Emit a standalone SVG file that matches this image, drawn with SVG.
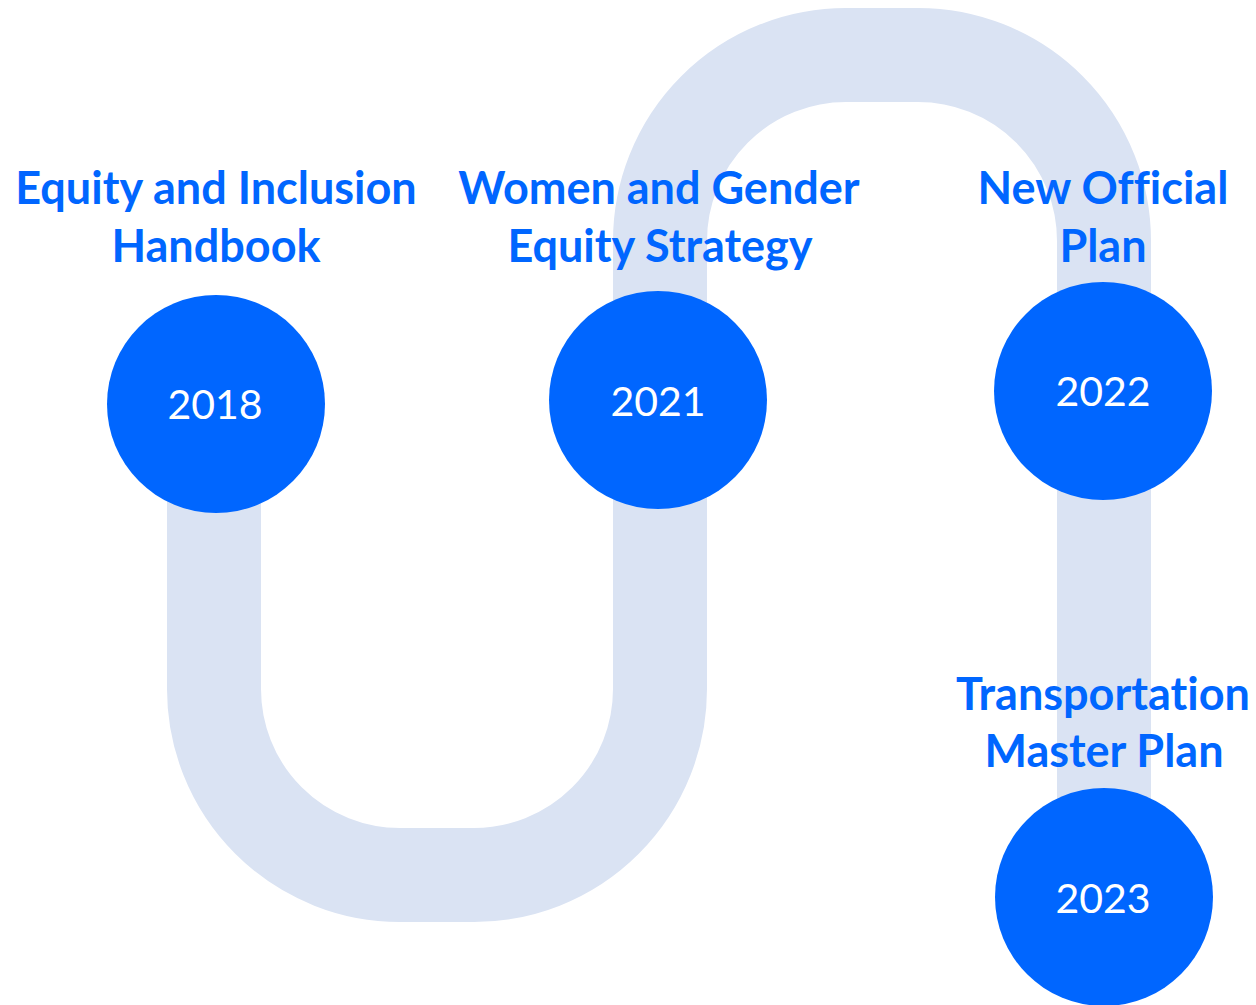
<svg xmlns="http://www.w3.org/2000/svg" width="1256" height="1005" viewBox="0 0 1256 1005">
  <style>
    .track { fill: none; stroke: #DAE3F3; stroke-width: 94; }
    .node { fill: #0066FF; }
    .label { font-family: Lato, "Open Sans", "Liberation Sans", sans-serif; font-weight: bold; font-size: 45px; fill: #0066FF; text-anchor: middle; font-variant-ligatures: none; }
    .year { font-family: Lato, "Open Sans", "Liberation Sans", sans-serif; font-size: 41px; fill: #FFFFFF; text-anchor: middle; }
  </style>
  <rect width="1256" height="1005" fill="#FFFFFF"/>
  <g id="connectors">
    <path class="track" d="M214,404 V689 A186,186 0 0 0 400,875 H474 A186,186 0 0 0 660,689 V241 A186,186 0 0 1 846,55 H918 A186,186 0 0 1 1104,241 V897"/>
  </g>
  <g id="node-2018">
    <text class="label" x="216" y="204">Equity and Inclusion</text>
    <text class="label" x="216" y="262">Handbook</text>
    <circle class="node" cx="216" cy="404" r="109"/>
    <text class="year" x="215" y="419">2018</text>
  </g>
  <g id="node-2021">
    <text class="label" x="659" y="204">Women and Gender</text>
    <text class="label" x="660" y="262">Equity Strategy</text>
    <circle class="node" cx="658" cy="400" r="109"/>
    <text class="year" x="658" y="416">2021</text>
  </g>
  <g id="node-2022">
    <text class="label" x="1103" y="204">New Official</text>
    <text class="label" x="1103" y="262">Plan</text>
    <circle class="node" cx="1103" cy="391" r="109"/>
    <text class="year" x="1103" y="406">2022</text>
  </g>
  <g id="node-2023">
    <text class="label" x="1103" y="710">Transportation</text>
    <text class="label" x="1104" y="767">Master Plan</text>
    <circle class="node" cx="1104" cy="897" r="109"/>
    <text class="year" x="1103" y="913">2023</text>
  </g>
</svg>
